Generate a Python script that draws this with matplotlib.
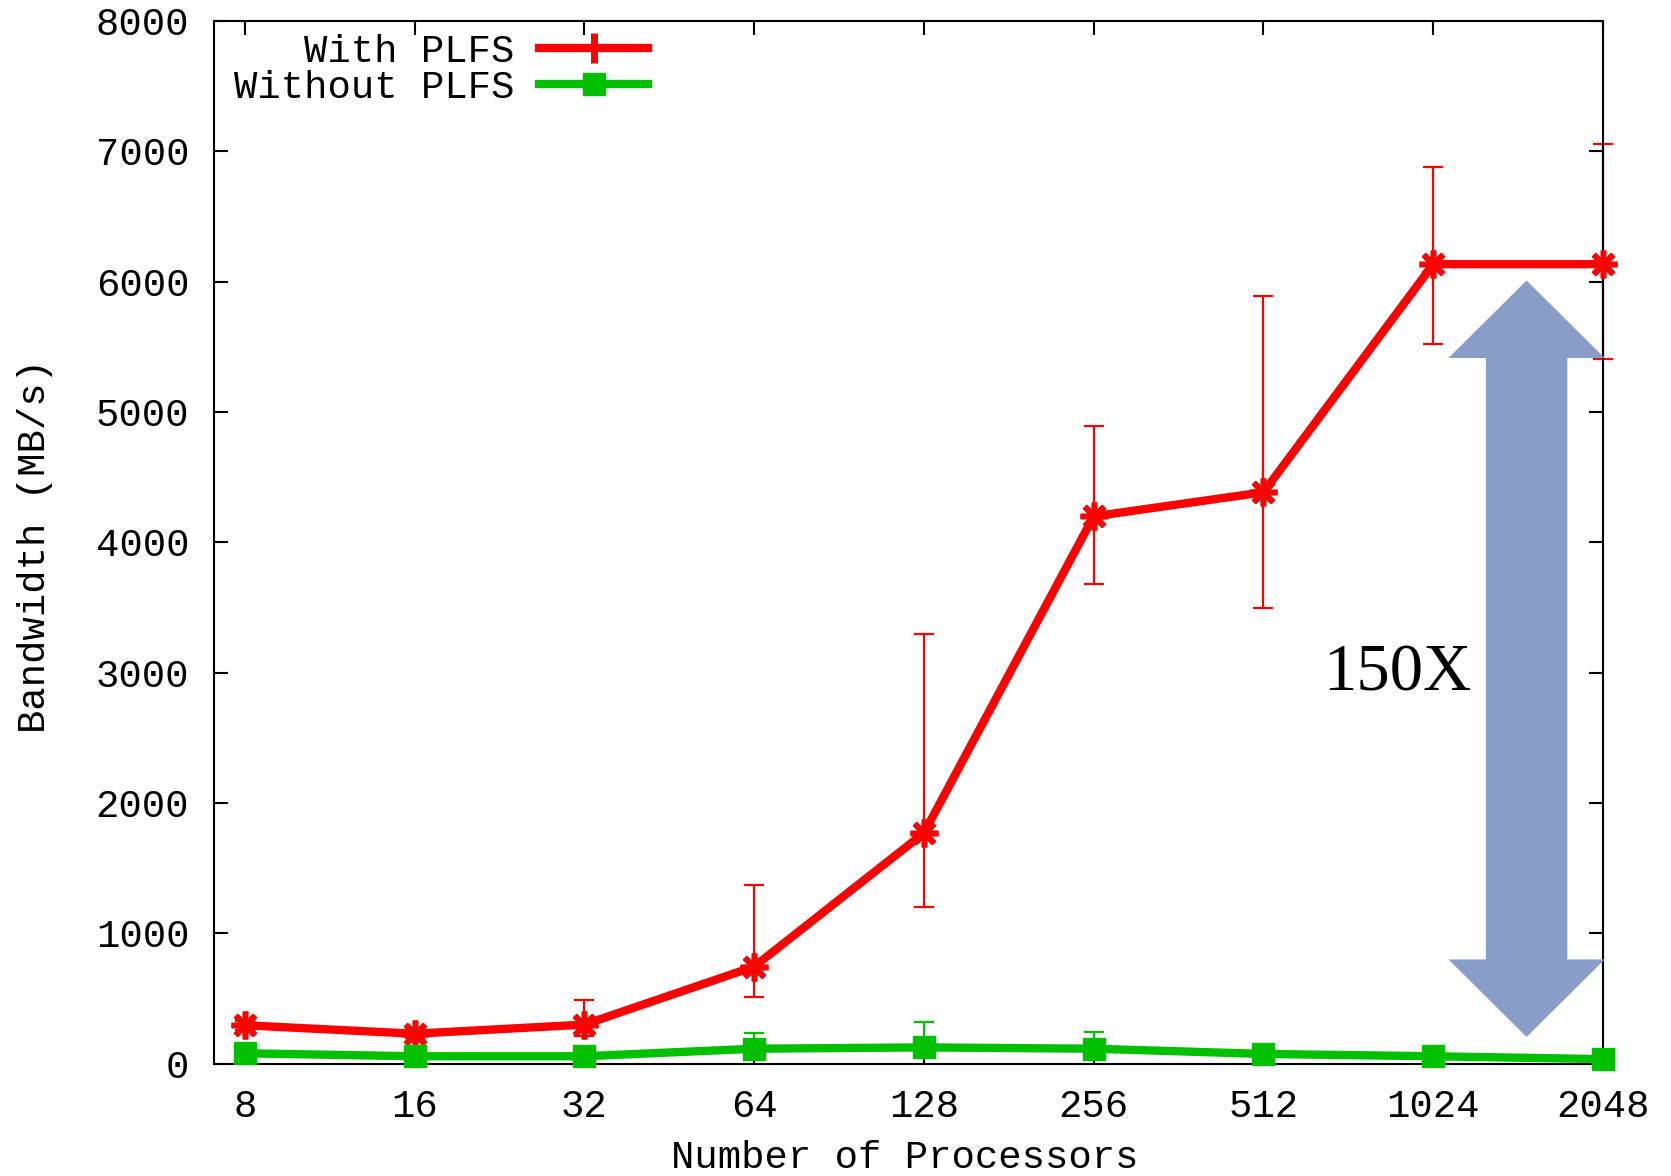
#!/usr/bin/python3
# -*- coding: utf-8 -*-
"""
Bandwidth vs number of processors, with and without PLFS.
"""
import numpy as np
import matplotlib.pyplot as plt
from matplotlib.lines import Line2D
from matplotlib.patches import Polygon

# processor counts (plotted on evenly spaced positions)
procs = [8, 16, 32, 64, 128, 256, 512, 1024, 2048]

# With PLFS: mean bandwidth (MB/s) and error bar extents
plfs_bw = [295, 230, 300, 745, 1770, 4200, 4385, 6135, 6135]
plfs_lo = [260, 200, 215, 510, 1205, 3680, 3500, 5520, 5405]
plfs_hi = [330, 260, 490, 1375, 3295, 4890, 5890, 6880, 7060]

# Without PLFS
noplfs_bw = [80, 57, 57, 115, 125, 115, 75, 57, 35]
noplfs_lo = [70, 50, 50, 100, 110, 100, 65, 50, 30]
noplfs_hi = [90, 65, 65, 235, 320, 245, 85, 65, 40]

yticks = [0, 1000, 2000, 3000, 4000, 5000, 6000, 7000, 8000]

RED = "#ff0000"
GREEN = "#00c000"
ARROW = "#889ec9"
MONO = "Liberation Mono"
FS = 28

fig = plt.figure(figsize=(16.71, 11.76), dpi=100)
ax = fig.add_axes([0.1282, 0.0955, 0.8311, 0.8865])

x = np.arange(len(procs))

# error bars (thin, capped)
for bw, lo, hi, col in [(plfs_bw, plfs_lo, plfs_hi, RED),
                        (noplfs_bw, noplfs_lo, noplfs_hi, GREEN)]:
    bw = np.array(bw)
    yerr = [bw - np.array(lo), np.array(hi) - bw]
    eb = ax.errorbar(x, bw, yerr=yerr, fmt="none", ecolor=col,
                     elinewidth=1.6, capsize=7, capthick=1.6, zorder=2)
    for a in eb.lines[1] + eb.lines[2]:
        a.set_clip_on(False)

ax.plot(x, plfs_bw, color=RED, lw=6, marker=(8, 2, 0), ms=20, mew=4,
        clip_on=False, zorder=3)
ax.plot(x, noplfs_bw, color=GREEN, lw=6, marker="s", ms=16,
        clip_on=False, zorder=4)

# double-headed block arrow showing the gap
ax_c = 7.55
tip_top, base_top = 6010, 5415
tip_bot, base_bot = 205, 800
head_hw, shaft_hw = 0.46, 0.24
pts = [(ax_c, tip_top), (ax_c + head_hw, base_top), (ax_c + shaft_hw, base_top),
       (ax_c + shaft_hw, base_bot), (ax_c + head_hw, base_bot), (ax_c, tip_bot),
       (ax_c - head_hw, base_bot), (ax_c - shaft_hw, base_bot),
       (ax_c - shaft_hw, base_top), (ax_c - head_hw, base_top)]
ax.add_patch(Polygon(pts, closed=True, facecolor=ARROW, edgecolor="none",
                     zorder=5, clip_on=False))
ax.text(6.79, 2990, "150X", family="Liberation Serif", fontsize=48,
        ha="center", va="center", zorder=6)

ax.set_xlim(-0.18, 8)
ax.set_ylim(0, 8000)
ax.set_xticks(x)
ax.set_xticklabels([str(p) for p in procs])
ax.set_yticks(yticks)
ax.tick_params(direction="in", length=10, width=1.5, top=True, right=True,
               labelsize=FS, pad=18)
ax.tick_params(axis="y", pad=18)
for lab in ax.get_xticklabels() + ax.get_yticklabels():
    lab.set_family(MONO)
for s in ax.spines.values():
    s.set_linewidth(1.5)

ax.set_xlabel("Number of Processors", family=MONO, fontsize=FS)
ax.set_ylabel("Bandwidth (MB/s)", family=MONO, fontsize=FS)
ax.xaxis.set_label_coords(0.497, -0.0906)
ax.yaxis.set_label_coords(-0.129, 0.497)
ax.xaxis.label.set_va("center")
ax.yaxis.label.set_va("center")

handles = [Line2D([], [], color=RED, lw=6, marker="+", ms=22, mew=5),
           Line2D([], [], color=GREEN, lw=6, marker="s", ms=16)]
fig.legend(handles, ["With PLFS", "Without PLFS"], loc="upper right",
           bbox_to_anchor=(0.3995, 0.988), frameon=False, markerfirst=False,
           prop={"family": MONO, "size": FS}, handlelength=2.8,
           handletextpad=0.64, labelspacing=0.0, borderpad=0)

fig.savefig("out.png", dpi=100)
